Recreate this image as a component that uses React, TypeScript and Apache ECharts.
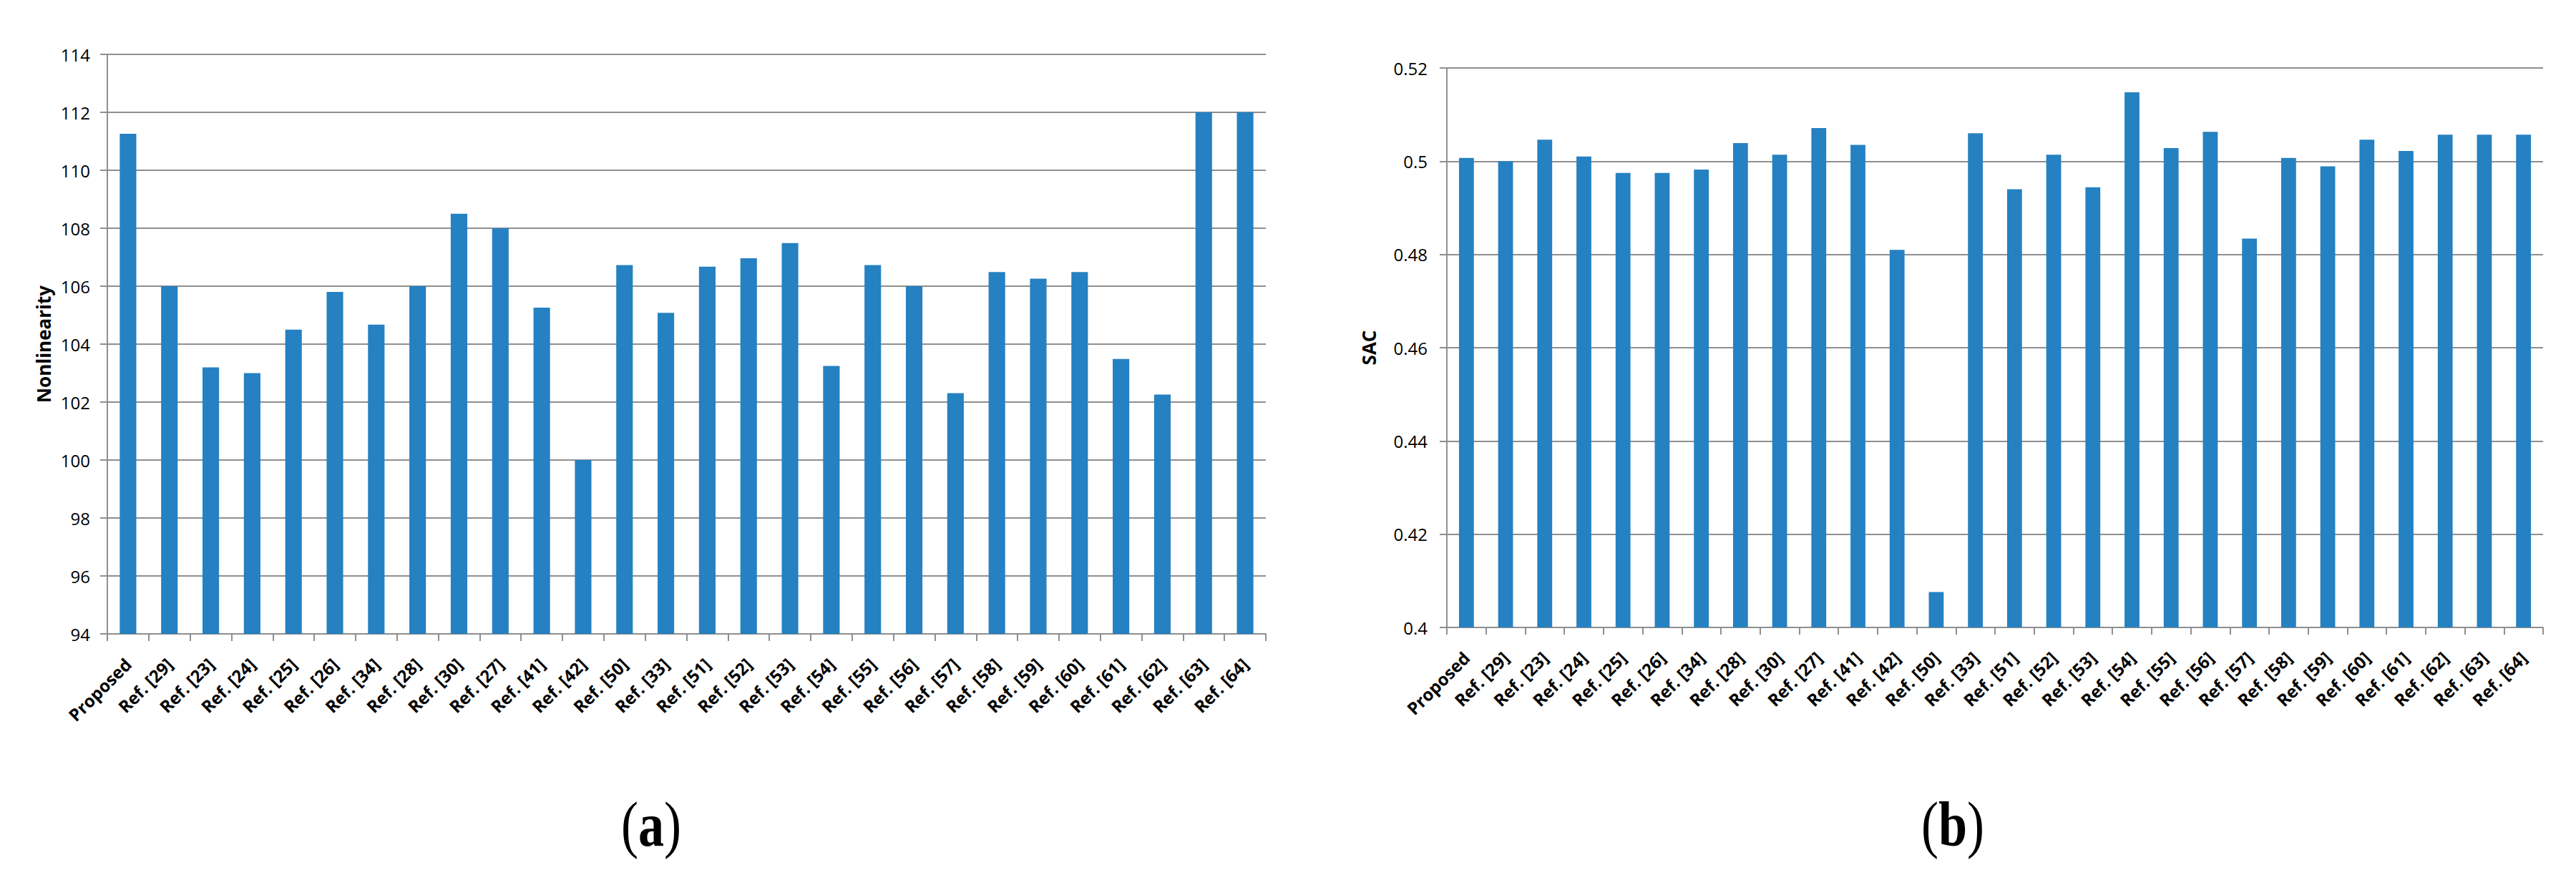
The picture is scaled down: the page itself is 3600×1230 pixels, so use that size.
import React, { useEffect, useRef } from 'react';
import * as echarts from 'echarts';

const categories = [
  'Proposed', 'Ref. [29]', 'Ref. [23]', 'Ref. [24]', 'Ref. [25]', 'Ref. [26]', 'Ref. [34]',
  'Ref. [28]', 'Ref. [30]', 'Ref. [27]', 'Ref. [41]', 'Ref. [42]', 'Ref. [50]', 'Ref. [33]',
  'Ref. [51]', 'Ref. [52]', 'Ref. [53]', 'Ref. [54]', 'Ref. [55]', 'Ref. [56]', 'Ref. [57]',
  'Ref. [58]', 'Ref. [59]', 'Ref. [60]', 'Ref. [61]', 'Ref. [62]', 'Ref. [63]', 'Ref. [64]',
];

const nonlinearity = [
  111.26, 106, 103.2, 103, 104.5, 105.8, 104.67, 106, 108.5, 108, 105.26, 100, 106.73, 105.08,
  106.67, 106.96, 107.49, 103.25, 106.73, 106, 102.31, 106.49, 106.26, 106.49, 103.49, 102.26, 112, 112,
];

const sac = [
  0.5007, 0.5, 0.5046, 0.501, 0.4975, 0.4975, 0.4982, 0.5039, 0.5014, 0.5071, 0.5035, 0.481, 0.4076, 0.506,
  0.494, 0.5014, 0.4944, 0.5148, 0.5028, 0.5063, 0.4834, 0.5007, 0.4989, 0.5046, 0.5022, 0.5057, 0.5057, 0.5057,
];

const nlAxis = { min: 94, max: 114, interval: 2, name: 'Nonlinearity' };
const sacAxis = { min: 0.4, max: 0.52, interval: 0.02, name: 'SAC' };
const panelLabels = ['a', 'b'];

const FONT = "'Open Sans', sans-serif";
const BAR = '#2581C1';
const GRID = '#8f8f8f';

function xAxisCfg(gridIndex: number) {
  return {
    type: 'category',
    gridIndex,
    data: categories,
    boundaryGap: true,
    axisLine: { show: true, lineStyle: { color: GRID, width: 2 } },
    axisTick: { show: true, alignWithLabel: false, length: 10, lineStyle: { color: GRID, width: 2 } },
    axisLabel: {
      interval: 0,
      rotate: 45,
      margin: 38,
      color: '#000',
      fontFamily: FONT,
      fontWeight: 'bold',
      fontSize: 24,
    },
    splitLine: { show: false },
  };
}

function yAxisCfg(gridIndex: number, a: any, nameGap: number, labelMargin: number) {
  return {
    type: 'value',
    gridIndex,
    min: a.min,
    max: a.max,
    interval: a.interval,
    name: a.name,
    nameLocation: 'middle',
    nameRotate: 90,
    nameGap,
    nameTextStyle: { color: '#000', fontFamily: FONT, fontWeight: 'bold', fontSize: 26 },
    axisLine: { show: true, lineStyle: { color: GRID, width: 2 } },
    axisTick: { show: true, length: 10, lineStyle: { color: GRID, width: 2 } },
    axisLabel: { color: '#000', fontFamily: FONT, fontSize: 24, margin: labelMargin },
    splitLine: { show: true, lineStyle: { color: GRID, width: 2 } },
  };
}

function panelText(label: string, x: number) {
  return {
    type: 'text',
    x,
    y: 1152,
    scaleX: 0.82,
    style: {
      text: '(' + '{b|' + label + '})',
      rich: {
        b: { fontFamily: "'Liberation Serif', serif", fontWeight: 'bold', fontSize: 88, fill: '#000' },
      },
      fontFamily: "'Liberation Serif', serif",
      fontSize: 88,
      fill: '#000',
      align: 'center',
      verticalAlign: 'middle',
    },
  };
}

export default function App() {
  const ref = useRef<HTMLDivElement>(null);
  useEffect(() => {
    document.body.style.margin = '0';
    const chart = echarts.init(ref.current as HTMLDivElement, null, { renderer: 'svg' });
    chart.setOption({
      animation: false,
      backgroundColor: '#fff',
      grid: [
        { left: 150, top: 76, width: 1619, height: 810 },
        { left: 2022, top: 95, width: 1532, height: 782 },
      ],
      xAxis: [xAxisCfg(0), xAxisCfg(1)],
      yAxis: [yAxisCfg(0, nlAxis, 76, 24), yAxisCfg(1, sacAxis, 96, 27)],
      series: [
        {
          type: 'bar',
          xAxisIndex: 0,
          yAxisIndex: 0,
          data: nonlinearity,
          barWidth: '40%',
          itemStyle: { color: BAR },
        },
        {
          type: 'bar',
          xAxisIndex: 1,
          yAxisIndex: 1,
          data: sac,
          barWidth: '38%',
          itemStyle: { color: BAR },
        },
      ],
      graphic: [panelText(panelLabels[0], 910), panelText(panelLabels[1], 2729)],
    });
    return () => chart.dispose();
  }, []);
  return <div ref={ref} style={{ width: 3600, height: 1230 }} />;
}
